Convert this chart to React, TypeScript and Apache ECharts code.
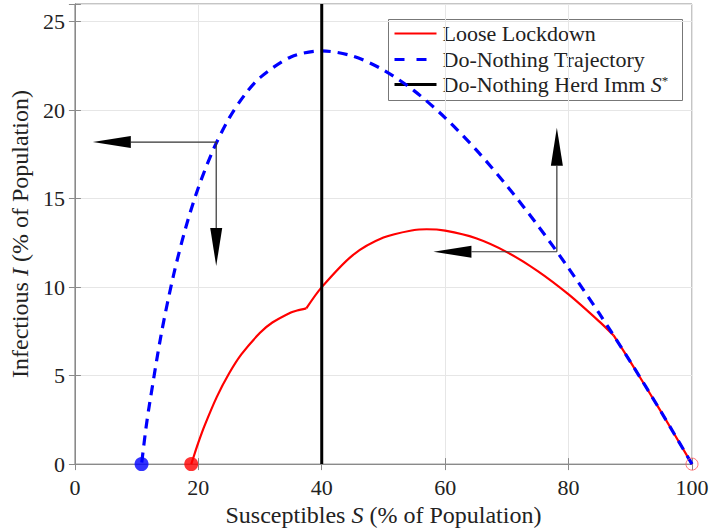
import React, { useEffect, useRef } from "react";
import * as echarts from "echarts";

const xTicks = [0, 20, 40, 60, 80, 100];
const yTicks = [0, 5, 10, 15, 20, 25];

// Do-Nothing Trajectory (S, I)
const doNothingS = [100, 95, 90, 85, 80, 75, 70, 65, 60, 55, 50, 45, 40, 35, 30, 27.5, 25, 22.5, 20, 18, 16, 14, 12, 11.5, 10.8];
const doNothingI = [0, 2.95, 5.79, 8.5, 11.07, 13.49, 15.73, 17.77, 19.57, 21.09, 22.27, 23.06, 23.35, 23.01, 21.84, 20.86, 19.55, 17.83, 15.62, 13.41, 10.7, 7.36, 3.19, 1.99, 0];

// Loose Lockdown (S, I)
const lockdownS = [100, 95, 90, 87.3, 85, 80, 75, 70, 65, 60, 57, 55, 50, 45, 40, 37.5, 36, 35, 32, 30, 27, 25, 23, 21, 20, 19, 18.85];
const lockdownI = [0, 2.95, 5.79, 7.27, 8.05, 9.59, 10.91, 11.98, 12.76, 13.19, 13.27, 13.23, 12.8, 11.8, 10.0, 8.8, 8.68, 8.57, 8.0, 7.42, 6.21, 5.13, 3.8, 2.16, 1.21, 0.16, 0];
// indices where the policy switches (lockdown on, lockdown off)
const lockdownOnIdx = 3;
const lockdownOffIdx = 15;

const herdImmunityS = 40;

// Arrows [fromS, fromI, toS, toI]
const arrows = [
  [22.9, 18.2, 2.9, 18.2],
  [22.9, 18.2, 22.9, 11.2],
  [78.1, 12.0, 58.1, 12.0],
  [78.1, 12.0, 78.1, 19.0],
];

const endBlue = [10.8, 0];
const endRed = [18.85, 0];
const startPoint = [100, 0];

const FONT = "Liberation Serif";

export default function App() {
  const ref = useRef<HTMLDivElement>(null);
  useEffect(() => {
    const chart = echarts.init(ref.current!, null, { renderer: "svg" });
    const zip = (a: number[], b: number[]) => a.map((v, i) => [v, b[i]]);
    const red = zip(lockdownS, lockdownI);
    const axisColor = "#8a8a8a";
    const redLine = { color: "#ff0000", width: 2.2 };
    const nameStyle = {
      fontFamily: FONT, fontSize: 24, color: "#222",
      rich: { i: { fontFamily: FONT, fontSize: 24, fontStyle: "italic", color: "#222" } },
    };
    const option: any = {
      animation: false,
      backgroundColor: "#fff",
      grid: { left: 71, right: 20, top: 4, bottom: 64, show: true, borderColor: axisColor, borderWidth: 1 },
      xAxis: [
        {
          type: "value", min: 0, max: 100, interval: 20,
          axisLine: { show: true, lineStyle: { color: axisColor } },
          axisTick: { show: true, inside: true, length: 6, lineStyle: { color: axisColor } },
          axisLabel: {
            fontFamily: FONT, fontSize: 22, color: "#222", margin: 12,
            formatter: (v: number) => (xTicks.includes(v) ? String(v) : ""),
          },
          splitLine: { show: true, lineStyle: { color: "#e6e6e6" } },
          name: "Susceptibles {i|S} (% of Population)",
          nameLocation: "middle", nameGap: 36,
          nameTextStyle: nameStyle,
        },
        {
          type: "value", min: 0, max: 100, interval: 20, position: "top",
          axisLine: { show: true, lineStyle: { color: axisColor } },
          axisTick: { show: true, inside: true, length: 6, lineStyle: { color: axisColor } },
          axisLabel: { show: false }, splitLine: { show: false },
        },
      ],
      yAxis: [
        {
          type: "value", min: 0, max: 26, interval: 5,
          axisLine: { show: true, lineStyle: { color: axisColor } },
          axisTick: { show: true, inside: true, length: 6, lineStyle: { color: axisColor } },
          axisLabel: {
            fontFamily: FONT, fontSize: 22, color: "#222", margin: 10,
            formatter: (v: number) => (yTicks.includes(v) ? String(v) : ""),
          },
          splitLine: { show: true, lineStyle: { color: "#e6e6e6" } },
          name: "Infectious {i|I} (% of Population)",
          nameLocation: "middle", nameGap: 25,
          nameTextStyle: nameStyle,
        },
        {
          type: "value", min: 0, max: 26, interval: 5, position: "right",
          axisLine: { show: true, lineStyle: { color: axisColor } },
          axisTick: { show: true, inside: true, length: 6, lineStyle: { color: axisColor } },
          axisLabel: { show: false }, splitLine: { show: false },
        },
      ],
      series: [
        {
          name: "Loose Lockdown", type: "line", data: red.slice(0, lockdownOnIdx + 1),
          showSymbol: false, symbol: "none", smooth: 0.3, lineStyle: redLine, z: 3,
        },
        {
          name: "Loose Lockdown", type: "line", data: red.slice(lockdownOnIdx, lockdownOffIdx + 1),
          showSymbol: false, symbol: "none", smooth: 0.3, lineStyle: redLine, z: 3,
        },
        {
          name: "Loose Lockdown", type: "line", data: red.slice(lockdownOffIdx),
          showSymbol: false, symbol: "none", smooth: 0.3, lineStyle: redLine, z: 3,
        },
        {
          name: "Do-Nothing Trajectory", type: "line", data: zip(doNothingS, doNothingI),
          showSymbol: false, symbol: "none", smooth: 0.3,
          lineStyle: { color: "#0000ff", width: 3.2, type: [10, 7] }, z: 4,
        },
        {
          name: "Do-Nothing Herd Imm", type: "line", data: [[herdImmunityS, 0], [herdImmunityS, 26]],
          showSymbol: false, symbol: "none",
          lineStyle: { color: "#000", width: 3 }, z: 5,
        },
        {
          type: "custom", z: 6,
          renderItem: (params: any, api: any) => {
            const p1 = api.coord([api.value(0), api.value(1)]);
            const p2 = api.coord([api.value(2), api.value(3)]);
            const dx = p2[0] - p1[0], dy = p2[1] - p1[1];
            const len = Math.sqrt(dx * dx + dy * dy);
            const ux = dx / len, uy = dy / len;
            const hl = 38, hw = 6;
            const bx = p2[0] - ux * hl, by = p2[1] - uy * hl;
            const nx = -uy, ny = ux;
            return {
              type: "group",
              children: [
                { type: "line", shape: { x1: p1[0], y1: p1[1], x2: bx, y2: by }, style: { stroke: "#333", lineWidth: 1.2 } },
                { type: "polygon", shape: { points: [[p2[0], p2[1]], [bx + nx * hw, by + ny * hw], [bx - nx * hw, by - ny * hw]] }, style: { fill: "#000" } },
              ],
            };
          },
          data: arrows,
          encode: { x: [0, 2], y: [1, 3] },
        },
        {
          type: "scatter", data: [endBlue], symbolSize: 14, itemStyle: { color: "#0000ff" }, z: 7,
        },
        {
          type: "scatter", data: [endRed], symbolSize: 14, itemStyle: { color: "#ff0000" }, z: 7,
        },
        {
          type: "scatter", data: [startPoint], symbolSize: 12, clip: false,
          itemStyle: { color: "none", borderColor: "#ff5555", borderWidth: 1 }, z: 7,
        },
      ],
      graphic: [
        {
          type: "group", left: 388, top: 19, z: 100,
          children: [
            { type: "rect", shape: { x: 0, y: 0, width: 294, height: 81 }, style: { fill: "#fff", stroke: "#777", lineWidth: 1 } },
            { type: "line", shape: { x1: 6, y1: 14, x2: 48, y2: 14 }, style: { stroke: "#ff0000", lineWidth: 2.2 } },
            { type: "line", shape: { x1: 6, y1: 40, x2: 48, y2: 40 }, style: { stroke: "#0000ff", lineWidth: 3.2, lineDash: [10, 12] } },
            { type: "line", shape: { x1: 6, y1: 65, x2: 48, y2: 65 }, style: { stroke: "#000", lineWidth: 3 } },
            { type: "text", x: 54, y: 14, style: { text: "Loose Lockdown", fontFamily: FONT, fontSize: 22, fill: "#222", verticalAlign: "middle" } },
            { type: "text", x: 54, y: 40, style: { text: "Do-Nothing Trajectory", fontFamily: FONT, fontSize: 22, fill: "#222", verticalAlign: "middle" } },
            {
              type: "text", x: 54, y: 65,
              style: {
                text: "Do-Nothing Herd Imm {i|S}{s|*}", fontFamily: FONT, fontSize: 22, fill: "#222", verticalAlign: "middle",
                rich: {
                  i: { fontFamily: FONT, fontSize: 22, fontStyle: "italic", fill: "#222" },
                  s: { fontFamily: FONT, fontSize: 13, fill: "#222", verticalAlign: "top", padding: [0, 0, 8, 0] },
                },
              },
            },
          ],
        },
      ],
    };
    chart.setOption(option);
    return () => chart.dispose();
  }, []);
  return <div ref={ref} style={{ position: "fixed", left: 0, top: 0, width: 712, height: 532 }} />;
}
